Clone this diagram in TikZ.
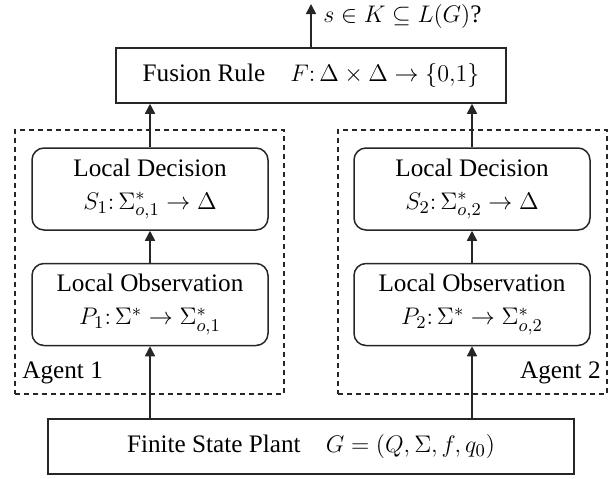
\documentclass[tikz,border=0pt]{standalone}
\usepackage{fontspec}
\setmainfont{Liberation Serif}
\usetikzlibrary{arrows.meta}
\begin{document}
\begin{tikzpicture}[x=0.5pt,y=-0.5pt,
  every node/.style={font=\fontsize{12.6}{16.5}\selectfont, inner sep=0pt},
  sqbox/.style={draw=black!85, line width=0.75pt, rectangle, minimum height=27.5pt},
  rbox/.style={draw=black!85, line width=0.75pt, rounded corners=6pt, align=center, minimum width=118pt, minimum height=41pt},
  agent/.style={draw=black!85, line width=0.6pt, dash pattern=on 2.5pt off 2pt, minimum width=134.5pt, minimum height=132pt},
  flow/.style={-{Triangle[length=5pt,width=5pt]}, line width=0.75pt, draw=black!85}]
\useasboundingbox (0,0) rectangle (616,478);
% agents
\node[agent] (agL) at (149.5,262) {};
\node[agent] (agR) at (472.5,262) {};
\node[anchor=west] (lblL) at (22,373) {Agent 1};
\node[anchor=east] (lblR) at (601,373) {Agent 2};
% boxes
\node[sqbox, minimum width=195pt] (fus) at (311,75.5) {Fusion Rule\quad $F{:}\,\Delta\times\Delta\rightarrow\{0{,}1\}$};
\node[rbox] (decL) at (150,189) {Local Decision\\$S_1{:}\,\Sigma_{o,1}^{*}\rightarrow\Delta$};
\node[rbox] (obsL) at (150,304.5) {Local Observation\\$P_1{:}\,\Sigma^{*}\rightarrow\Sigma_{o,1}^{*}$};
\node[rbox] (decR) at (472,189) {Local Decision\\$S_2{:}\,\Sigma_{o,2}^{*}\rightarrow\Delta$};
\node[rbox] (obsR) at (472,304.5) {Local Observation\\$P_2{:}\,\Sigma^{*}\rightarrow\Sigma_{o,2}^{*}$};
\node[sqbox, minimum width=263pt] (plant) at (311,446.5) {Finite State Plant\quad $G=(Q,\Sigma,f,q_0)$};
% output
\coordinate (out) at (311,4);
\node[anchor=west] (q) at (323,16) {$s\in K\subseteq L(G)$?};
% connectors
\draw[flow] (fus.north) -- (out);
\draw[flow] (decL.north) -- (decL.north |- fus.south);
\draw[flow] (decR.north) -- (decR.north |- fus.south);
\draw[flow] (obsL.north) -- (decL.south);
\draw[flow] (obsR.north) -- (decR.south);
\draw[flow] (plant.north -| obsL) -- (obsL.south);
\draw[flow] (plant.north -| obsR) -- (obsR.south);
\end{tikzpicture}
\end{document}
